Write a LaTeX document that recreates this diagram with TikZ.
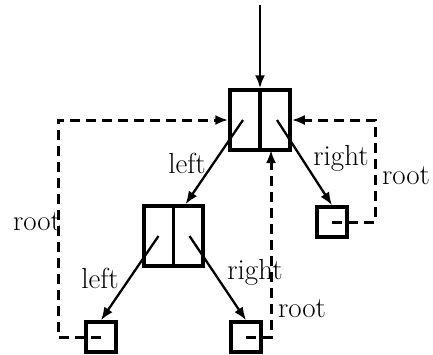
\documentclass[tikz,border=0pt]{standalone}
\usetikzlibrary{arrows.meta,calc}
\begin{document}
\begin{tikzpicture}[x=1pt,y=-1pt,
  pair/.style={draw,line width=3.5pt,minimum width=60pt,minimum height=60pt,inner sep=0pt},
  midpair/.style={draw,line width=3.5pt,minimum width=59pt,minimum height=60pt,inner sep=0pt},
  leaf/.style={draw,line width=3.5pt,minimum width=30pt,minimum height=30pt,inner sep=0pt},
  link/.style={line width=2.3pt,-{Latex[length=13pt,width=10pt]}},
  rootlink/.style={line width=3pt,dash pattern=on 10pt off 6pt,-{Latex[length=13pt,width=10pt]}},
  lbl/.style={font=\fontsize{29}{34}\selectfont,inner sep=0pt}]
  \useasboundingbox (0,0) rectangle (433,354);

  % tree nodes
  \node[pair] (top) at (260,120) {};
  \draw[line width=3.5pt] (top.north) -- (top.south);
  \node[midpair] (mid) at (173.5,236) {};
  \draw[line width=3.5pt] (mid.north) -- (mid.south);
  \node[leaf] (rleaf) at (332,222) {};
  \node[leaf] (lleaf) at (101,337) {};
  \node[leaf] (mleaf) at (246,337) {};

  % entry pointer
  \coordinate (entry) at (260,5);
  \draw[link] (entry) -- (top.north);

  % child pointers
  \draw[link] ($(top.center)+(-17,0)$) -- ($(mid.north)+(12,0)$);
  \draw[link] ($(top.center)+(17,0)$) -- (rleaf.north);
  \draw[link] ($(mid.center)+(-15,0)$) -- (lleaf.north);
  \draw[link] ($(mid.center)+(16,0)$) -- (mleaf.north);

  % root pointers
  \coordinate (lc1) at (58,337);
  \coordinate (lc2) at (58,120);
  \draw[rootlink] (lleaf.center) -- (lc1) -- (lc2) -- (top.west);
  \coordinate (rc1) at (375,222);
  \coordinate (rc2) at (375,120);
  \draw[rootlink] (rleaf.center) -- (rc1) -- (rc2) -- (top.east);
  \coordinate (mc1) at (271,337);
  \coordinate (mc2) at (271,150);
  \draw[rootlink] (mleaf.center) -- (mc1) -- (mc2);

  % labels
  \node[lbl] (l1) at (187,163) {left};
  \node[lbl] (r1) at (341,158) {right};
  \node[lbl] (l2) at (100,278) {left};
  \node[lbl] (r2) at (255,272) {right};
  \node[lbl] (t1) at (37,222) {root};
  \node[lbl] (t2) at (406,176) {root};
  \node[lbl] (t3) at (302,309) {root};
\end{tikzpicture}
\end{document}
